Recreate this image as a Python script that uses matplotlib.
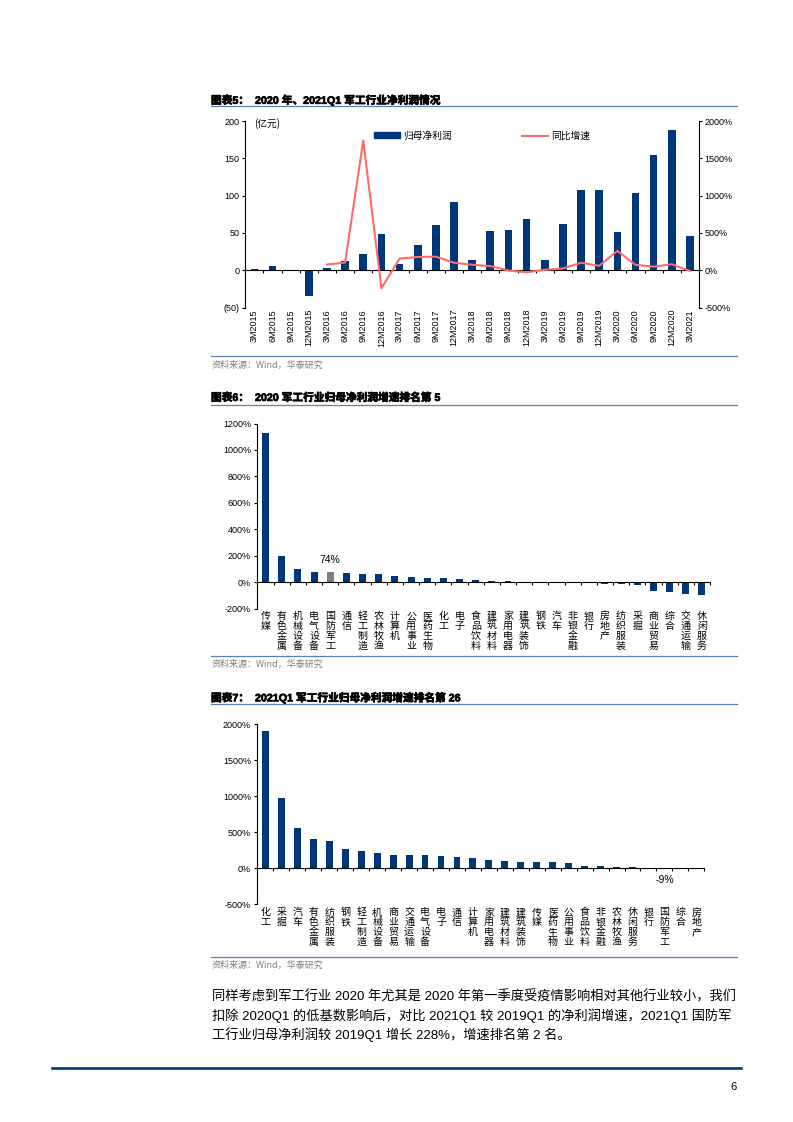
import matplotlib
matplotlib.use('Agg')
import matplotlib.pyplot as plt
import matplotlib.transforms as mtransforms
import matplotlib.patheffects as pe
from matplotlib.lines import Line2D
from matplotlib.patches import Rectangle

plt.rcParams['font.family'] = ['Liberation Sans', 'Noto Sans CJK SC']
CJK = ['Noto Sans CJK SC', 'Liberation Sans']

# ---------------- data ----------------
quarters = ['3M2015', '6M2015', '9M2015', '12M2015', '3M2016', '6M2016', '9M2016', '12M2016',
            '3M2017', '6M2017', '9M2017', '12M2017', '3M2018', '6M2018', '9M2018', '12M2018',
            '3M2019', '6M2019', '9M2019', '12M2019', '3M2020', '6M2020', '9M2020', '12M2020',
            '3M2021']
profit = [2, 6, -1, -35, 3, 12, 22, 48, 8, 34, 61, 92, 14, 53, 54, 68, 14, 62, 107, 108,
          51, 104, 154, 188, 46]
growth = [None, None, None, None, 76, 103, 1740, -242, 155, 177, 182, 100, 73, 55, -5, -27,
          5, 23, 100, 59, 259, 71, 48, 80, -9]

ind2020 = ['传媒', '有色金属', '机械设备', '电气设备', '国防军工', '通信', '轻工制造', '农林牧渔',
           '计算机', '公用事业', '医药生物', '化工', '电子', '食品饮料', '建筑材料', '家用电器',
           '建筑装饰', '钢铁', '汽车', '非银金融', '银行', '房地产', '纺织服装', '采掘',
           '商业贸易', '综合', '交通运输', '休闲服务']
g2020 = [1127, 194, 98, 80, 74, 72, 60, 58, 45, 35, 33, 30, 25, 17, 10, 5, 3, 2, 1, 0.5,
         -2, -13, -15, -23, -68, -78, -88, -100]

ind2021 = ['化工', '采掘', '汽车', '有色金属', '纺织服装', '钢铁', '轻工制造', '机械设备',
           '商业贸易', '交通运输', '电气设备', '电子', '通信', '计算机', '家用电器', '建筑材料',
           '建筑装饰', '传媒', '医药生物', '公用事业', '食品饮料', '非银金融', '农林牧渔',
           '休闲服务', '银行', '国防军工', '综合', '房地产']
g2021 = [1907, 972, 560, 407, 370, 259, 231, 213, 180, 180, 176, 162, 148, 143, 116, 97,
         83, 79, 79, 65, 32, 32, 18, 9, -1, -9, -15, -20]

t5 = '图表5：  2020 年、2021Q1 军工行业净利润情况'
t6 = '图表6：  2020 军工行业归母净利润增速排名第 5'
t7 = '图表7：  2021Q1 军工行业归母净利润增速排名第 26'
source = '资料来源：Wind，华泰研究'
body = ['同样考虑到军工行业 2020 年尤其是 2020 年第一季度受疫情影响相对其他行业较小，我们',
        '扣除 2020Q1 的低基数影响后，对比 2021Q1 较 2019Q1 的净利润增速，2021Q1 国防军',
        '工行业归母净利润较 2019Q1 增长 228%，增速排名第 2 名。']

NAVY = '#003778'
GRAY = '#7f7f7f'
LINE = '#ff6b6b'
RULE = '#5b80bd'

W, H = 793, 1122
fig = plt.figure(figsize=(W / 100, H / 100), dpi=100)


def fx(x):
    return x / W


def fy(y):
    return 1 - y / H


def hline(x0, x1, y, color=RULE, lw=0.9):
    fig.add_artist(Line2D([fx(x0), fx(x1)], [fy(y), fy(y)], transform=fig.transFigure,
                          color=color, lw=lw))


def title(y, s):
    fig.text(fx(211), fy(y), s, fontsize=7.7, fontweight='bold', va='center', ha='left',
             family=['Liberation Sans', 'Noto Sans CJK SC'],
             path_effects=[pe.withStroke(linewidth=0.5, foreground='black')])


def style_axes(ax):
    for s in ['top', 'right']:
        ax.spines[s].set_visible(False)
    ax.spines['left'].set_linewidth(0.8)
    ax.spines['bottom'].set_linewidth(0.8)
    ax.spines['bottom'].set_position(('data', 0))
    ax.tick_params(axis='y', direction='out', length=2, width=0.8, labelsize=6.5, pad=2)
    ax.tick_params(axis='x', direction='out', length=2.5, width=0.8, labelbottom=False)


# ---------------- chart 1 ----------------
title(100, t5)
hline(211, 737, 106)
ax1 = fig.add_axes([fx(245.3), fy(307.5), fx(699) - fx(245.3), fy(121) - fy(307.5)])
x1 = list(range(len(quarters)))
ax1.bar(x1, profit, width=0.42, color=NAVY, zorder=2)
ax1.set_xlim(-0.5, len(quarters) - 0.5)
ax1.set_ylim(-50, 200)
ax1.set_yticks([-50, 0, 50, 100, 150, 200])
ax1.set_yticklabels(['(50)', '0', '50', '100', '150', '200'])
style_axes(ax1)
ax1.set_xticks([i + 0.5 for i in range(len(quarters) - 1)])
ax2 = ax1.twinx()
gx = [i for i, g in enumerate(growth) if g is not None]
gy = [g for g in growth if g is not None]
ax2.plot(gx, gy, color=LINE, lw=1.5, zorder=3)
ax2.set_ylim(-500, 2000)
ax2.set_yticks([-500, 0, 500, 1000, 1500, 2000])
ax2.set_yticklabels([f'{v}%' for v in [-500, 0, 500, 1000, 1500, 2000]])
for s in ['top', 'left', 'bottom']:
    ax2.spines[s].set_visible(False)
ax2.spines['right'].set_linewidth(0.8)
ax2.tick_params(axis='y', direction='out', length=2, width=0.8, labelsize=6.5, pad=2)
tr1 = mtransforms.blended_transform_factory(ax1.transData, fig.transFigure)
for i, q in enumerate(quarters):
    ax1.text(i, fy(309), q, transform=tr1, rotation=90, ha='center', va='top', fontsize=6.5)
fig.text(fx(254), fy(124), '(亿元)', fontsize=7, va='center', ha='left', family=CJK)
fig.add_artist(Rectangle((fx(374), fy(138)), fx(26), fy(132) - fy(138),
                         transform=fig.transFigure, color=NAVY))
fig.text(fx(403), fy(135.5), '归母净利润', fontsize=7, va='center', ha='left', family=CJK)
fig.add_artist(Line2D([fx(522), fx(548)], [fy(135.5), fy(135.5)], transform=fig.transFigure,
                      color=LINE, lw=1.5))
fig.text(fx(551), fy(135.5), '同比增速', fontsize=7, va='center', ha='left', family=CJK)
hline(211, 737, 356)
fig.text(fx(212), fy(365), source, fontsize=6.5, color=GRAY, va='center', ha='left', family=CJK)


# ---------------- chart 2 ----------------
def vlabels(ax, cats, ytop):
    tr = mtransforms.blended_transform_factory(ax.transData, fig.transFigure)
    for i, c in enumerate(cats):
        ax.text(i, fy(ytop), '\n'.join(c), transform=tr, ha='center', va='top', fontsize=7.2,
                linespacing=0.98, family=CJK)


title(397.5, t6)
hline(211, 737, 404.5)
ax3 = fig.add_axes([fx(256.7), fy(608.5), fx(710) - fx(256.7), fy(423.5) - fy(608.5)])
x2 = list(range(len(ind2020)))
cols2 = [GRAY if c == '国防军工' else NAVY for c in ind2020]
ax3.bar(x2, g2020, width=0.43, color=cols2, zorder=2)
ax3.set_xlim(-0.55, len(ind2020) - 0.5)
ax3.set_ylim(-200, 1200)
yt2 = [-200, 0, 200, 400, 600, 800, 1000, 1200]
ax3.set_yticks(yt2)
ax3.set_yticklabels([f'{v}%' for v in yt2])
style_axes(ax3)
ax3.set_xticks([i + 0.5 for i in range(len(ind2020))])
k = ind2020.index('国防军工')
ax3.annotate(f'{g2020[k]:.0f}%', (k, g2020[k]), xytext=(0, 9), textcoords='offset points',
             ha='center', va='center', fontsize=7.5)
vlabels(ax3, ind2020, 611)
hline(211, 737, 656)
fig.text(fx(212), fy(664), source, fontsize=6.5, color=GRAY, va='center', ha='left', family=CJK)

# ---------------- chart 3 ----------------
title(697.5, t7)
hline(211, 737, 704)
ax4 = fig.add_axes([fx(256.7), fy(904), fx(704.3) - fx(256.7), fy(724) - fy(904)])
x3 = list(range(len(ind2021)))
ax4.bar(x3, g2021, width=0.43, color=NAVY, zorder=2)
ax4.set_xlim(-0.55, len(ind2021) - 0.5)
ax4.set_ylim(-500, 2000)
yt3 = [-500, 0, 500, 1000, 1500, 2000]
ax4.set_yticks(yt3)
ax4.set_yticklabels([f'{v}%' for v in yt3])
style_axes(ax4)
ax4.set_xticks([i + 0.5 for i in range(len(ind2021))])
k = ind2021.index('国防军工')
ax4.annotate(f'{g2021[k]:.0f}%', (k, g2021[k]), xytext=(0, -8.5), textcoords='offset points',
             ha='center', va='center', fontsize=7.5)
vlabels(ax4, ind2021, 907.5)
hline(211, 737, 957)
fig.text(fx(212), fy(965), source, fontsize=6.5, color=GRAY, va='center', ha='left', family=CJK)

# ---------------- body text & footer ----------------
for j, line in enumerate(body):
    fig.text(fx(212), fy(997 + j * 18.7), line, fontsize=9.5, va='center', ha='left',
             family=['Liberation Sans', 'Noto Sans CJK SC'])
hline(52, 741, 1067.5, color='#003a78', lw=1.9)
fig.text(fx(737), fy(1087), '6', fontsize=8, va='center', ha='right')

fig.savefig('out.png', dpi=100)
